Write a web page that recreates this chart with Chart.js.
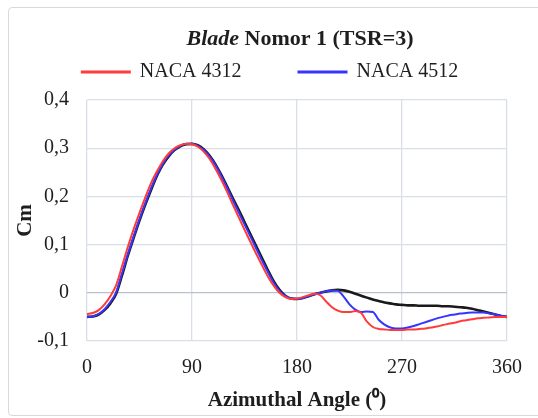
<!DOCTYPE html>
<html>
<head>
<meta charset="utf-8">
<script src="https://cdn.jsdelivr.net/npm/chart.js@4/dist/chart.umd.min.js"></script>
<style>
  body { margin: 0; background: #fff; }
  #wrap { position: relative; width: 538px; height: 418px; overflow: hidden; }
  #frame { position: absolute; left: 8px; top: 7px; width: 560px; height: 409px;
           border: 1.5px solid #d9d9d9; border-radius: 4px; box-sizing: border-box; }
  canvas { position: absolute; left: 0; top: 0; }
</style>
</head>
<body>
<div id="wrap">
  <div id="frame"></div>
  <canvas id="chart" width="538" height="418"></canvas>
</div>
<script>
var titleParts = ['Blade', ' Nomor 1 (TSR=3)'];
var seriesNames = ['NACA 4312', 'NACA 4512', ''];
var xTitle = 'Azimuthal Angle (\u2070)';
var yTitle = 'Cm';

// azimuth, 5 degree steps
var angles = [0,5,10,15,20,25,30,35,40,45,50,55,60,65,70,75,80,85,90,95,100,105,110,115,120,
  125,130,135,140,145,150,155,160,165,170,175,180,185,190,195,200,205,210,215,220,225,230,235,
  240,245,250,255,260,265,270,275,280,285,290,295,300,305,310,315,320,325,330,335,340,345,350,355,360];

var naca4312 = [-0.044,-0.042,-0.036,-0.024,-0.007,0.016,0.055,0.095,0.132,0.166,0.198,0.228,0.252,0.273,0.289,0.300,0.306,0.309,0.308,0.303,0.293,
  0.278,0.258,0.235,0.210,0.183,0.157,0.131,0.106,0.081,0.057,0.034,0.015,0.000,-0.009,-0.013,-0.012,-0.009,-0.005,-0.002,-0.005,-0.018,-0.030,
  -0.037,-0.040,-0.040,-0.038,-0.042,-0.060,-0.071,-0.075,-0.076,-0.077,-0.077,-0.077,-0.076,-0.076,-0.075,-0.074,-0.072,-0.070,-0.067,-0.064,
  -0.062,-0.059,-0.057,-0.055,-0.053,-0.052,-0.051,-0.050,-0.050,-0.050];

var naca4512 = [-0.050,-0.049,-0.044,-0.034,-0.019,0.001,0.040,0.080,0.117,0.153,0.186,0.217,0.245,0.268,0.285,0.297,0.305,0.309,0.309,0.305,0.297,
  0.283,0.265,0.243,0.218,0.192,0.167,0.142,0.117,0.092,0.067,0.043,0.021,0.004,-0.007,-0.012,-0.013,-0.011,-0.007,-0.003,0.000,0.003,0.005,
  0.004,-0.008,-0.024,-0.035,-0.040,-0.039,-0.040,-0.056,-0.066,-0.072,-0.074,-0.074,-0.072,-0.069,-0.065,-0.061,-0.057,-0.053,-0.050,-0.047,
  -0.045,-0.043,-0.042,-0.041,-0.041,-0.041,-0.043,-0.045,-0.048,-0.050];

var baseline = [-0.050,-0.049,-0.045,-0.036,-0.022,-0.002,0.036,0.077,0.114,0.150,0.183,0.214,0.243,0.266,0.283,0.296,0.304,0.308,0.309,0.306,0.298,
  0.285,0.267,0.245,0.221,0.196,0.172,0.147,0.122,0.097,0.072,0.047,0.024,0.006,-0.006,-0.012,-0.013,-0.011,-0.007,-0.003,0.000,0.003,0.005,
  0.006,0.005,0.002,-0.002,-0.006,-0.010,-0.014,-0.017,-0.020,-0.022,-0.024,-0.025,-0.026,-0.026,-0.027,-0.027,-0.027,-0.027,-0.028,-0.028,
  -0.029,-0.030,-0.031,-0.033,-0.036,-0.039,-0.042,-0.045,-0.048,-0.050];

var xTicks = [0, 90, 180, 270, 360];
var yMin = -0.1, yMax = 0.4, yStep = 0.1;

var serif = '"Liberation Serif", "Times New Roman", serif';
var textColor = '#1e1e1e';

function points(vals) {
  return angles.map(function (a, i) { return { x: a, y: vals[i] }; });
}

function makeSet(name, vals, color, width) {
  return {
    label: name,
    data: points(vals),
    borderColor: color,
    backgroundColor: color,
    borderWidth: width,
    pointRadius: 0,
    cubicInterpolationMode: 'monotone',
    fill: false
  };
}

// title with italic first word
var mixedTitle = {
  id: 'mixedTitle',
  afterDraw: function (chart) {
    var ctx = chart.ctx;
    var a = chart.chartArea;
    var f1 = 'italic bold 22px ' + serif;
    var f2 = 'bold 22px ' + serif;
    ctx.save();
    ctx.font = f1;
    var w1 = ctx.measureText(titleParts[0]).width;
    ctx.font = f2;
    var w2 = ctx.measureText(titleParts[1]).width;
    var x = (a.left + a.right) / 2 + 3 - (w1 + w2) / 2;
    ctx.textBaseline = 'middle';
    ctx.fillStyle = textColor;
    ctx.font = f1;
    ctx.fillText(titleParts[0], x, 39);
    ctx.font = f2;
    ctx.fillText(titleParts[1], x + w1, 39);
    ctx.restore();
  }
};

// empty gap between legend and plot
var legendGap = {
  id: 'legendGap',
  beforeInit: function (chart) {
    Chart.layouts.addBox(chart, {
      position: 'top',
      weight: 500,
      fullSize: true,
      options: {},
      top: 0, left: 0, right: 0, bottom: 0, width: 0, height: 0,
      isHorizontal: function () { return true; },
      update: function (maxWidth) { this.width = maxWidth; this.height = 8; },
      draw: function () {}
    });
  }
};

new Chart(document.getElementById('chart'), {
  type: 'line',
  data: {
    datasets: [
      makeSet(seriesNames[0], naca4312, '#ff3b3b', 2),
      makeSet(seriesNames[1], naca4512, '#3535ff', 2),
      makeSet(seriesNames[2], baseline, '#1a1a1a', 2.6)
    ]
  },
  options: {
    responsive: false,
    animation: false,
    layout: { padding: { top: 5, left: 2, right: 0, bottom: 5 } },
    plugins: {
      tooltip: { enabled: false },
      title: { display: false },
      legend: {
        display: true,
        position: 'top',
        labels: {
          boxWidth: 48,
          boxHeight: 1,
          padding: 57,
          color: textColor,
          font: { family: serif, size: 20 },
          filter: function (item) { return item.text !== ''; }
        }
      }
    },
    scales: {
      x: {
        type: 'linear',
        min: 0,
        max: 360,
        afterBuildTicks: function (s) { s.ticks = xTicks.map(function (v) { return { value: v }; }); },
        afterFit: function (s) { s.paddingRight = 31; s.height = 72; },
        grid: { color: '#d9dee7', lineWidth: 1.3, drawTicks: false },
        border: { display: false },
        ticks: { color: textColor, padding: 15, maxRotation: 0, font: { family: serif, size: 20 } },
        title: { display: true, text: xTitle, color: textColor, padding: { top: 0, bottom: 0 },
                 font: { family: serif, size: 21, weight: 'bold' } }
      },
      y: {
        min: yMin,
        max: yMax,
        afterFit: function (s) { s.width = 85; },
        grid: {
          color: function (c) { return c.tick && Math.abs(c.tick.value) < 1e-9 ? '#b9c1cf' : '#d9dee7'; },
          lineWidth: 1.3,
          drawTicks: false
        },
        border: { display: false },
        ticks: {
          stepSize: yStep,
          padding: 18,
          color: textColor,
          font: { family: serif, size: 20 },
          callback: function (v) {
            var r = Math.round(v * 10) / 10;
            return r === 0 ? '0' : r.toFixed(1).replace('.', ',');
          }
        },
        title: { display: true, text: yTitle, color: textColor, padding: { top: 11, bottom: 0 },
                 font: { family: serif, size: 21, weight: 'bold' } }
      }
    }
  },
  plugins: [mixedTitle, legendGap]
});
</script>
</body>
</html>
